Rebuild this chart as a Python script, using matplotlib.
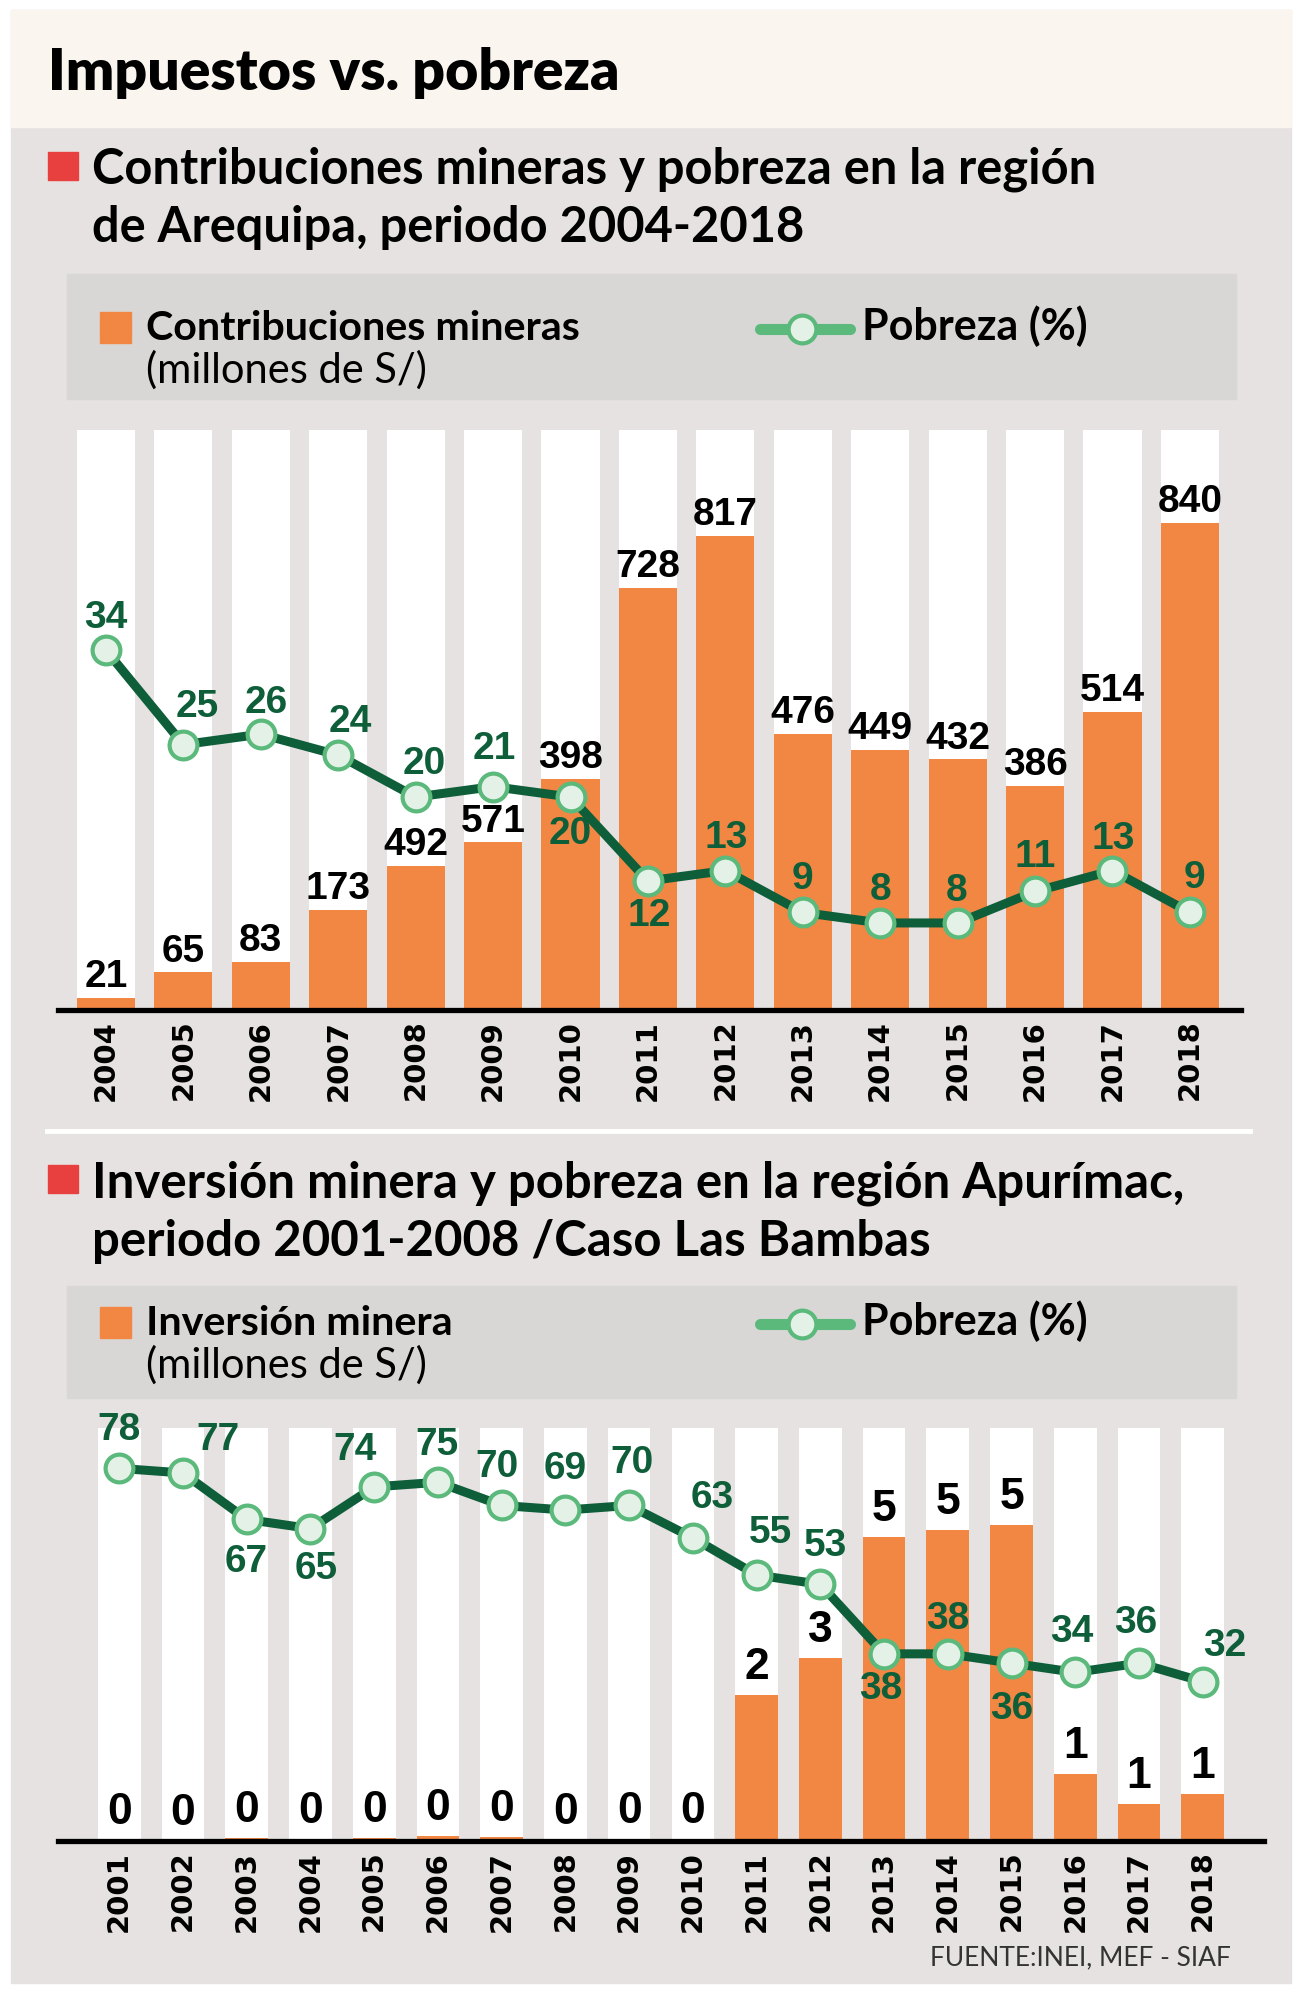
import matplotlib.pyplot as plt
import numpy as np
from matplotlib.patches import Rectangle

W, H = 1310, 2000

# --- data -------------------------------------------------------------
years1 = [str(y) for y in range(2004, 2019)]
# printed values of the contributions (millones de S/)
contrib_labels = [21, 65, 83, 173, 492, 571, 398, 728, 817, 476, 449, 432, 386, 514, 840]
# bar heights as drawn in the original graphic (2008 and 2009 are drawn short)
contrib = [21, 65, 83, 173, 248, 289, 398, 728, 817, 476, 449, 432, 386, 514, 840]
pobreza1 = [34, 25, 26, 24, 20, 21, 20, 12, 13, 9, 8, 8, 11, 13, 9]

years2 = [str(y) for y in range(2001, 2019)]
inversion = [0.02, 0.0, 0.05, 0.03, 0.05, 0.08, 0.06, 0.02, 0.04, 0.04,
             2.37, 2.97, 4.94, 5.05, 5.13, 1.09, 0.60, 0.76]
inversion_labels = [round(v) for v in inversion]
pobreza2 = [78, 77, 67, 65, 74, 75, 70, 69, 70, 63, 55, 53, 38, 38, 36, 34, 36, 32]

# label offsets for the poverty numbers (pixels, dx, dy; dy>0 = below)
off1 = [(0, -32), (14, -38), (5, -31), (12, -33), (9, -33), (1, -38), (0, 37),
        (1, 35), (1, -33), (0, -33), (0, -33), (-1, -32), (0, -34), (1, -32), (5, -34)]
off2 = [(0, -38), (35, -33), (0, 43), (6, 40), (-19, -37), (-1, -37), (-5, -38),
        (0, -41), (3, -42), (19, -40), (14, -42), (5, -38), (-3, 35), (0, -35),
        (0, 46), (-4, -40), (-3, -40), (22, -36)]

# --- style ------------------------------------------------------------
GREY = '#e6e2e1'
BOX = '#d9d7d6'
CREAM = '#fbf5ef'
ORANGE = '#f28744'
RED = '#e8403f'
DGREEN = '#0e5e3a'
LGREEN = '#5bb97c'
FACE = '#e3f1e6'
HEAD = ['Lato', 'DejaVu Sans']
NUM = ['Liberation Sans', 'DejaVu Sans']


def px_box(x0, y0, x1, y1):
    return [x0 / W, 1 - y1 / H, (x1 - x0) / W, (y1 - y0) / H]


fig = plt.figure(figsize=(W / 100, H / 100), dpi=100)
bg = fig.add_axes([0, 0, 1, 1], zorder=0)
bg.set_xlim(0, W)
bg.set_ylim(H, 0)
bg.axis('off')

bg.add_patch(Rectangle((11, 10), 1280, 1973, color=GREY))
bg.add_patch(Rectangle((11, 10), 1280, 117, color=CREAM))
bg.text(48, 90, 'Impuestos vs. pobreza', fontsize=41, fontweight='heavy',
        family=HEAD, va='baseline')

bg.plot([47, 1250], [1131, 1131], color='white', lw=3.5)


def header(y_sq, lines, y_base, head_fs, legend_y, legend_h, name, lg_base):
    bg.add_patch(Rectangle((48, y_sq), 30, 28, color=RED))
    for ln, yb in zip(lines, y_base):
        bg.text(92, yb, ln, fontsize=head_fs, fontweight='bold', family=HEAD, va='baseline')
    bg.add_patch(Rectangle((67, legend_y), 1169, legend_h, color=BOX))
    bg.add_patch(Rectangle((100, lg_base - 28), 31, 31, color=ORANGE))
    bg.text(146, lg_base, name, fontsize=29.7, fontweight='bold', family=HEAD, va='baseline')
    bg.text(146, lg_base + 43, '(millones de S/)', fontsize=30, family=HEAD, va='baseline')
    gy = lg_base - 11
    bg.plot([760, 850], [gy, gy], color=LGREEN, lw=8, solid_capstyle='round')
    bg.plot([802], [gy], 'o', ms=20, mfc=FACE, mec=LGREEN, mew=3)
    bg.text(862, lg_base, 'Pobreza (%)', fontsize=31, fontweight='bold', family=HEAD,
            va='baseline')


header(152, ['Contribuciones mineras y pobreza en la región',
             'de Arequipa, periodo 2004-2018'], [183, 242], 35.2, 274, 125,
       'Contribuciones mineras', 340)
header(1165, ['Inversión minera y pobreza en la región Apurímac,',
              'periodo 2001-2008 /Caso Las Bambas'], [1197, 1256], 35.4, 1286, 112,
       'Inversión minera', 1335)

bg.text(1231, 1965, 'FUENTE:INEI, MEF - SIAF', fontsize=19, family=HEAD,
        color='#333333', ha='right', va='baseline')


def chart(box, years, vals, labels, pov, top, ylim_pov, xlim, width, bar_fs, bar_off, offs):
    ax = fig.add_axes(px_box(*box), zorder=1)
    x = np.arange(len(years))
    ax.bar(x, [top] * len(x), width=width, color='white', zorder=1)
    ax.bar(x, vals, width=width, color=ORANGE, zorder=2)
    for xi, v, lab in zip(x, vals, labels):
        ax.annotate(str(lab), (xi, v), xytext=(0, bar_off), textcoords='offset points',
                    ha='center', va='bottom', fontsize=bar_fs, fontweight='bold',
                    family=NUM, zorder=5)
    ax.set_xlim(*xlim)
    ax.set_ylim(0, top)
    ax.patch.set_visible(False)
    for s in ['top', 'right', 'left']:
        ax.spines[s].set_visible(False)
    ax.spines['bottom'].set_linewidth(3.8)
    ax.spines['bottom'].set_color('black')
    ax.set_yticks([])
    ax.set_xticks(x, years, rotation=90, fontsize=21, fontweight='bold')
    ax.tick_params(axis='x', length=0, pad=7)

    ax2 = ax.twinx()
    ax2.set_ylim(*ylim_pov)
    ax2.axis('off')
    ax2.plot(x, pov, color=DGREEN, lw=6.5, solid_joinstyle='round', zorder=3)
    ax2.plot(x, pov, 'o', ms=20, mfc=FACE, mec=LGREEN, mew=3, zorder=4)
    for xi, p, (dx, dy) in zip(x, pov, offs):
        ax2.annotate(str(p), (xi, p), xytext=(dx * 0.72, -dy * 0.72),
                     textcoords='offset points', ha='center', va='center',
                     fontsize=28, fontweight='bold', family=NUM, color=DGREEN)


chart((58, 430, 1241, 1010), years1, contrib, contrib_labels, pobreza1, 1000, (-0.3, 55),
      (-0.62, 14.66), 0.75, 28, 2, off1)
chart((58, 1428, 1264, 1841), years2, inversion, inversion_labels, pobreza2, 6.71,
      (-2.36, 86.7), (-0.96, 17.96), 0.67, 32, 5, off2)

fig.savefig('out.png', dpi=100, facecolor='white')
